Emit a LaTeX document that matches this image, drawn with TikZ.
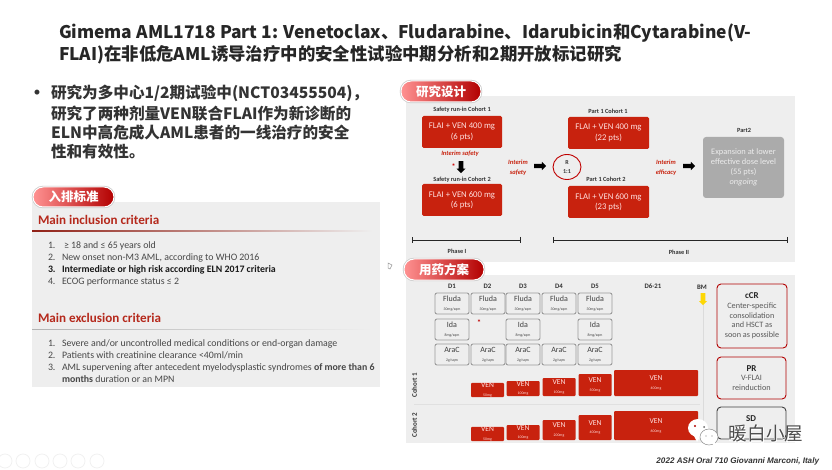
\documentclass[tikz,border=0pt]{standalone}
\usepackage{fontspec}
\setmainfont{Carlito}
\newfontfamily\cjk{Noto Sans CJK SC}
\newfontfamily\heros{Liberation Sans}
\usetikzlibrary{shapes.arrows,shapes.geometric,arrows.meta}
\definecolor{panelgrey}{HTML}{EEEEEE}
\definecolor{venred}{HTML}{C8220E}
\definecolor{titlered}{HTML}{B5291C}
\definecolor{boxgrey}{HTML}{9B9B9B}
\tikzset{
  x=1pt,y=-1pt,
  every node/.style={inner sep=0pt,outer sep=0pt,font=\fontsize{9}{10}\selectfont},
  panel/.style={fill=panelgrey},
  redbox/.style={fill=venred,rounded corners=1.5pt,text=white!88!red,align=center,font=\fontsize{8.7}{10.3}\selectfont},
  venbar/.style={fill=venred,rounded corners=1pt,text=white!88!red,align=center},
  drugbox/.style={draw=boxgrey,line width=0.9pt,fill=panelgrey,rounded corners=2pt,align=center,text=black!75},
  greybox/.style={fill=black!33,rounded corners=3pt,text=white!85!gray,align=center,font=\fontsize{8.4}{10.2}\selectfont},
  pill/.style={rounded corners=10pt,left color=red!30!pink!90!white,right color=red!70!black,
    preaction={draw=black!22,line width=2.4pt},draw=white,line width=1pt,text=white,
    font=\cjk\bfseries\fontsize{12.5}{13}\selectfont},
  small/.style={font=\bfseries\fontsize{6.3}{7}\selectfont,text=black!80},
  interim/.style={font=\bfseries\itshape\fontsize{6.5}{9.6}\selectfont,text=venred,align=center},
  daylabel/.style={font=\bfseries\fontsize{6.8}{7}\selectfont,text=black!80},
  outcome/.style={fill=panelgrey,line width=0.9pt,rounded corners=4pt,align=center,text=black!65,font=\fontsize{8.2}{9.7}\selectfont},
  blockarrow/.style={draw=none,fill=black,single arrow,inner sep=2pt,single arrow head extend=2pt,single arrow head indent=0pt},
  crit/.style={anchor=base west,yshift=-3.2pt,font=\fontsize{9.85}{10}\selectfont,text=black!72},
  critb/.style={anchor=base west,yshift=-3.2pt,font=\bfseries\fontsize{9.85}{10}\selectfont,text=black!90},
  crithead/.style={anchor=west,font=\bfseries\fontsize{13.1}{14}\selectfont,text=titlered},
  titleline/.style={anchor=west,font=\cjk\bfseries\fontsize{17.4}{18}\selectfont,text=black!85},
  bodyline/.style={anchor=west,font=\cjk\bfseries\fontsize{15.6}{16}\selectfont,text=black!80},
  phasebar/.style={{|[width=6pt]}-{|[width=6pt]},line width=0.7pt,draw=black!85},
}
\newcommand{\boxat}[7][]{%
  \pgfmathsetmacro{\bcx}{(#3+#5)/2}\pgfmathsetmacro{\bcy}{(#4+#6)/2}%
  \pgfmathsetmacro{\bw}{#5-#3}\pgfmathsetmacro{\bh}{#6-#4}%
  \node[#1,minimum width=\bw pt,minimum height=\bh pt] (#2) at (\bcx,\bcy) {#7};}
\newcommand{\drug}[5]{\boxat[drugbox]{#1}{#2}{#3}{#2+34}{#3+21}{{\fontsize{8}{8.5}\selectfont #4}\\[-1pt]{\fontsize{3.8}{5}\selectfont #5}}}
\newcommand{\ven}[5]{\boxat[venbar]{#1}{#2}{#3}{#2+33}{#4}{{\fontsize{7.6}{7}\selectfont VEN}\\[-1.5pt]{\fontsize{3.8}{4.5}\selectfont #5}}}
\begin{document}
\begin{tikzpicture}
\useasboundingbox (0,0) rectangle (832,470);
\fill[white] (0,0) rectangle (832,470);

% title
\node[titleline] (t1) at (59,33) {Gimema AML1718 Part 1: Venetoclax、Fludarabine、Idarubicin和Cytarabine(V-};
\node[titleline] (t2) at (59,55) {FLAI)在非低危AML诱导治疗中的安全性试验中期分析和2期开放标记研究};

% left text
\node[anchor=center,font=\fontsize{14}{14}\selectfont,text=black!80] (bul) at (37,93) {•};
\node[bodyline] (b1) at (51,93) {研究为多中心1/2期试验中(NCT03455504)，};
\node[bodyline] (b2) at (51,114) {研究了两种剂量VEN联合FLAI作为新诊断的};
\node[bodyline] (b3) at (51,133) {ELN中高危成人AML患者的一线治疗的安全};
\node[bodyline] (b4) at (51,152) {性和有效性。};

% left panel
\boxat[panel]{lp}{32}{202}{380}{387}{}
\node[crithead] (h1) at (38,219.5) {Main inclusion criteria};
\shade[left color=titlered!80!black,right color=panelgrey] (32,230.6) rectangle (372,231.4);
\node[crit] (n1) at (48,245) {1.};\node[crit] (c1) at (64,245) {≥ 18 and ≤ 65 years old};
\node[crit] (n2) at (48,257) {2.};\node[crit] (c2) at (62,257) {New onset non-M3 AML, according to WHO 2016};
\node[critb] (n3) at (48,269) {3.};
\node[critb] (c3) at (62,269) {Intermediate or high risk according ELN 2017 criteria};
\node[crit] (n4) at (48,281) {4.};\node[crit] (c4) at (62,281) {ECOG performance status ≤ 2};
\node[crithead] (h2) at (38,318) {Main exclusion criteria};
\shade[left color=black!30,right color=panelgrey] (32,329.2) rectangle (372,329.9);
\node[crit] (e1n) at (48,343) {1.};\node[crit] (e1) at (62,343) {Severe and/or uncontrolled medical conditions or end-organ damage};
\node[crit] (e2n) at (48,355) {2.};\node[crit] (e2) at (62,355) {Patients with creatinine clearance <40ml/min};
\node[crit] (e3n) at (48,367) {3.};\node[crit] (e3) at (62,367) {AML supervening after antecedent myelodysplastic syndromes \textbf{of more than 6}};
\node[crit] (e3b) at (62,379) {\textbf{months} duration or an MPN};

% cursor
\draw[black!40,line width=0.5pt] (388,263) -- (392,265) -- (390,269) -- (388,268) -- cycle;

% study design panel
\boxat[panel]{dp}{406}{96}{795}{262}{}
\node[small] (s1) at (462,110) {Safety run-in Cohort 1};
\boxat[redbox]{sc1}{422}{116}{502}{148}{FLAI + VEN 400 mg\\(6 pts)}
\node[interim] (i1) at (460,154) {Interim safety};
\node[font=\bfseries\fontsize{8}{8}\selectfont,text=red!80!black] (st) at (453.5,167) {*};
\node[blockarrow,rotate=-90,minimum height=12pt,minimum width=9pt] (da) at (461,166) {};
\node[small] (s2) at (462,180) {Safety run-in Cohort 2};
\boxat[redbox]{sc2}{422}{184}{502}{216}{FLAI + VEN 600 mg\\(6 pts)}
\node[interim] (i2) at (518,167.5) {Interim\\safety};
\node[blockarrow,minimum height=12pt,minimum width=8pt] (a1) at (539,166) {};
\node[draw=red!75!black,line width=0.9pt,ellipse,minimum width=28pt,minimum height=25pt,align=center,font=\bfseries\fontsize{6}{9.5}\selectfont,text=black!80] (R) at (567,167) {R\\1:1};
\node[small] (p1) at (608,111.5) {Part 1 Cohort 1};
\boxat[redbox]{pc1}{568}{117}{649}{149}{FLAI + VEN 400 mg\\(22 pts)}
\node[small] (p2) at (606,179.5) {Part 1 Cohort 2};
\boxat[redbox]{pc2}{568}{186}{649}{218}{FLAI + VEN 600 mg\\(23 pts)}
\node[interim] (i3) at (666,167.5) {Interim\\efficacy};
\node[blockarrow,minimum height=12pt,minimum width=8pt] (a2) at (688,166) {};
\node[small] (p3) at (744,130.5) {Part2};
\boxat[greybox]{gb}{703}{137}{784}{198}{Expansion at lower\\effective dose level\\(55 pts)\\\textit{ongoing}}
\coordinate (ph1a) at (412,240);\coordinate (ph1b) at (521,240);
\coordinate (ph2a) at (553,240);\coordinate (ph2b) at (788,240);
\draw[phasebar] (ph1a) -- (ph1b);
\draw[phasebar] (ph2a) -- (ph2b);
\node[small] (ph1) at (457,251.5) {Phase I};
\node[small] (ph2) at (679,252) {Phase II};

% regimen panel
\boxat[panel]{rp}{406}{275}{795}{443}{}
\draw[black!12,line width=0.6pt] (414,404) -- (700,404);
\draw[black!14,line width=0.6pt] (703,304) -- (703,443);
\foreach \n/\x in {D1/452,D2/487.5,D3/523,D4/559,D5/595}{\node[daylabel] (l\n) at (\x,286) {\n};}
\node[daylabel] (l6) at (653,286) {D6-21};
\node[daylabel] (lbm) at (702,287) {BM};
\node[fill=yellow!75!orange,single arrow,inner sep=1.6pt,rotate=-90,minimum height=12pt,minimum width=8pt,single arrow head extend=1.2pt,single arrow head indent=0pt] (bma) at (703,298) {};

\drug{f1}{435}{293}{Fluda}{30mg/sqm}
\drug{f2}{471}{293}{Fluda}{30mg/sqm}
\drug{f3}{506}{293}{Fluda}{30mg/sqm}
\drug{f4}{542}{293}{Fluda}{30mg/sqm}
\drug{f5}{578}{293}{Fluda}{30mg/sqm}
\drug{i1b}{435}{319}{Ida}{8mg/sqm}
\node[font=\bfseries\fontsize{8}{8}\selectfont,text=red!75!black] (st2) at (479,323) {*};
\drug{i3b}{506}{319}{Ida}{8mg/sqm}
\drug{i5b}{578}{319}{Ida}{8mg/sqm}
\drug{a1b}{435}{344}{AraC}{2g/sqm}
\drug{a2b}{471}{344}{AraC}{2g/sqm}
\drug{a3b}{506}{344}{AraC}{2g/sqm}
\drug{a4b}{542}{344}{AraC}{2g/sqm}
\drug{a5b}{578}{344}{AraC}{2g/sqm}

\node[rotate=90,font=\bfseries\fontsize{7}{7}\selectfont,text=black!80] (co1) at (414.5,385) {Cohort 1};
\node[rotate=90,font=\bfseries\fontsize{7}{7}\selectfont,text=black!80] (co2) at (414.5,425) {Cohort 2};
\ven{v12}{471}{384}{396}{50mg}
\ven{v13}{506.5}{381}{396}{100mg}
\ven{v14}{542.5}{378}{396}{100mg}
\ven{v15}{578.5}{374}{396}{500mg}
\boxat[venbar]{v16}{614}{370}{698}{396}{{\fontsize{7.6}{7}\selectfont VEN}\\[-1pt]{\fontsize{3.8}{4.5}\selectfont 400mg}}
\ven{v22}{471}{428}{440}{50mg}
\ven{v23}{506.5}{425}{440}{100mg}
\ven{v24}{542.5}{420}{440}{200mg}
\ven{v25}{578.5}{415}{440}{400mg}
\boxat[venbar]{v26}{614}{411}{698}{440}{{\fontsize{7.6}{7}\selectfont VEN}\\[-1pt]{\fontsize{3.8}{4.5}\selectfont 600mg}}

\boxat[outcome,draw=red!70!black]{ccr}{717}{284}{787}{348}{{\bfseries\fontsize{9}{10}\selectfont\color{black!85} cCR}\\Center-specific\\consolidation\\and HSCT as\\soon as possible}
\boxat[outcome,draw=red!70!black]{pr}{717}{357}{786}{399}{{\bfseries\fontsize{9}{10}\selectfont\color{black!85} PR}\\V-FLAI\\reinduction}
\boxat[outcome,draw=black!75]{sdb}{717}{407}{786}{439}{}
\node[font=\bfseries\fontsize{9}{10}\selectfont,text=black!85] (sd) at (751,419) {SD};

% header pills
\boxat[pill]{pa}{401}{81}{481}{102}{研究设计}
\boxat[pill]{pb}{404}{259}{484}{280}{用药方案}
\boxat[pill]{pc}{33}{187}{114}{207}{入排标准}

% watermark
\fill[white] (698,428) ellipse (10pt and 9pt);
\fill[white] (694,436) -- (697,442) -- (701,435) -- cycle;
\draw[black!45,line width=0.5pt,fill=white] (709,437) ellipse (9pt and 8pt);
\fill[white] (712,443) -- (715,447) -- (715,441) -- cycle;
\fill[red!70!black] (695,426) circle (1.2pt);
\fill[black!60] (704,427) circle (1pt);
\fill[black!50] (706,436) circle (0.7pt);
\fill[black!50] (712,436) circle (0.7pt);
\node[font=\cjk\bfseries\fontsize{19}{20}\selectfont,text=white] (wmb) at (766,434) {暖白小屋};
\node[font=\cjk\fontsize{18.6}{20}\selectfont,text=black!70] (wm) at (766,433.5) {暖白小屋};

% citation
\node[anchor=east,font=\heros\bfseries\itshape\fontsize{8.1}{9}\selectfont,text=black!80] (cit) at (819,461) {2022 ASH Oral 710 Giovanni Marconi, Italy};

% toolbar
\foreach \x in {5,23,42,60,78,97}{\draw[black!6,line width=0.7pt] (\x,461) circle (7pt);}
\end{tikzpicture}
\end{document}
